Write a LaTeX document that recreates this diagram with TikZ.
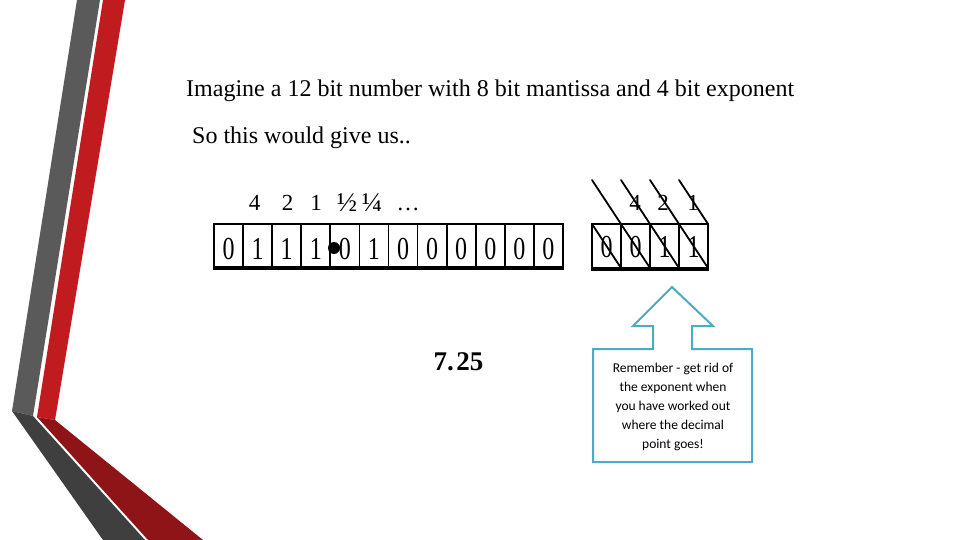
\documentclass[tikz,border=0pt]{standalone}
\usepackage{fontspec}
\setmainfont{Liberation Serif}
\newfontfamily\cellfont[FakeStretch=0.75]{Liberation Serif}
\newfontfamily\notefont{Carlito}
\definecolor{grayup}{HTML}{5A5A5A}
\definecolor{graylow}{HTML}{3F3F3F}
\definecolor{redup}{HTML}{C01B1F}
\definecolor{redlow}{HTML}{8E1418}
\definecolor{calloutblue}{HTML}{4BACC6}
\begin{document}
\begin{tikzpicture}[x=1pt,y=-1pt,
  txt/.style={inner sep=0pt, anchor=base west, font=\fontsize{24}{28}\selectfont},
  wgt/.style={inner sep=0pt, anchor=base, font=\fontsize{23}{27}\selectfont},
  frac/.style={inner sep=0pt, anchor=base, font=\fontsize{27}{30}\selectfont},
  bitcell/.style={draw, line width=1.8pt, minimum width=29.08pt, minimum height=43pt,
    inner sep=0pt, text height=27pt, text depth=0pt, font=\cellfont\fontsize{32}{36}\selectfont},
  expcell/.style={draw, line width=1.8pt, minimum width=29pt, minimum height=44pt,
    inner sep=0pt, text height=23pt, text depth=0pt, font=\cellfont\fontsize{32}{36}\selectfont},
  diag/.style={line width=1.8pt, line cap=round},
  callout/.style={draw=calloutblue, line width=2pt, line join=miter},
]
\useasboundingbox (0,0) rectangle (960,540);
\fill[white] (0,0) rectangle (960,540);
% left decoration
\fill[grayup] (77,0) -- (100,0) -- (33,416) -- (12,411) -- cycle;
\fill[graylow] (12,411) -- (33,416) -- (145,540) -- (103,540) -- cycle;
\fill[redup] (103,0) -- (125,0) -- (55,420) -- (37,417) -- cycle;
\fill[redlow] (37,417) -- (55,420) -- (203,540) -- (148,540) -- cycle;
% texts
\node[txt] (title) at (186,97) {Imagine a 12 bit number with 8 bit mantissa and 4 bit exponent};
\node[txt] (sothis) at (192,144) {So this would give us..};
% weights over mantissa
\node[wgt] (w4) at (254.5,210) {4};
\node[wgt] (w2) at (287.5,210) {2};
\node[wgt] (w1) at (316,210) {1};
\node[frac] (wh) at (347,211) {½};
\node[frac] (wq) at (372,211) {¼};
\node[wgt] (wd) at (408,210) {…};
% bit cells
\foreach \d [count=\i] in {0,1,1,1,0,1,0,0,0,0,0,0} {
  \node[bitcell] (b\i) at ({214+29.08*(\i-0.5)},245.5) {\d};
}
\draw[line width=3.5pt] (b1.south west) -- (b12.south east);
\node[circle, fill=black, minimum size=12pt, inner sep=0pt] (dot) at (334,248) {};
% exponent
\foreach \d [count=\i] in {0,0,1,1} {
  \node[expcell] (e\i) at ({592+29*(\i-0.5)},246) {\d};
}
\draw[line width=3.5pt] (e1.south west) -- (e4.south east);
\node[wgt] (x4) at (635,210) {4};
\node[wgt] (x2) at (663,210) {2};
\node[wgt] (x1) at (693,210) {1};
\draw[diag] (592,224) -- (621,268);
\draw[diag] (592,180) -- (650,268);
\draw[diag] (621,180) -- (679,268);
\draw[diag] (650,180) -- (708,268);
\draw[diag] (679,180) -- (708,224);
% result
\node[inner sep=0pt, anchor=base, font=\bfseries\fontsize{27}{30}\selectfont] (res) at (458.5,370) {7.\kern2.5pt25};
% callout
\draw[callout] (593,462) -- (593,349) -- (653,349) -- (653,326) -- (633,326) -- (672,287)
  -- (713,326) -- (692,326) -- (692,349) -- (752,349) -- (752,462) -- cycle;
\node[align=center, inner sep=0pt, font=\notefont\fontsize{13.5}{19}\selectfont] (note) at (673,407)
  {Remember - get rid of\\the exponent when\\you have worked out\\where the decimal\\point goes!};
\end{tikzpicture}
\end{document}
